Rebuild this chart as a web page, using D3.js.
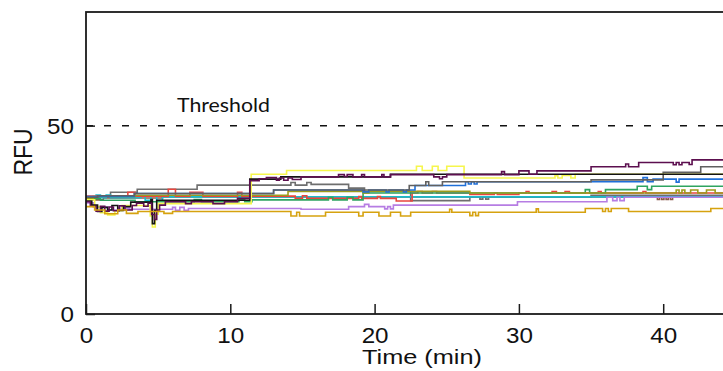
<!DOCTYPE html>
<html>
<head>
<meta charset="utf-8">
<script src="https://cdn.jsdelivr.net/npm/d3@7"></script>
<style>
  html, body { margin: 0; padding: 0; background: #fff; }
  svg { display: block; }
</style>
</head>
<body>
<svg id="chart" width="723" height="371"></svg>
<script>
// RFU readings per well over time: [minutes, RFU] change points (step traces)
const yellowSeries = [[0,30.3],[0.6,28.5],[1.0,26.9],[1.5,26.3],[2.0,27.4],[2.5,28.8],[4.45,26.0],[4.6,23.1],[4.8,26.5],[5.0,29.3],[11.45,37.1],[13.9,38.1],[22.9,39.2],[23.3,38.1],[24.0,39.2],[24.4,38.1],[25.0,39.2],[26.2,36.1],[32.5,36.7],[32.7,36.1],[33.0,36.8],[33.6,36.1],[33.9,37.1],[45,37.1]];
const darkPurpleSeries = [[0,29.8],[0.3,28.6],[0.7,27.3],[1.0,28.6],[1.3,27.3],[1.6,28.4],[1.9,27.4],[2.3,28.7],[2.7,27.6],[3.2,28.8],[3.5,29.4],[4.0,28.6],[4.3,29.4],[4.55,26.4],[4.75,25.1],[4.9,27.6],[5.1,28.9],[5.5,29.8],[6.9,29.3],[7.3,29.8],[8.8,29.3],[9.6,29.8],[10.5,30.7],[11.35,35.4],[12.0,35.9],[12.5,36.2],[13.2,35.5],[13.4,36.1],[13.7,35.5],[14.0,36.1],[14.3,35.7],[14.9,36.4],[17.5,37.0],[17.9,36.5],[18.1,37.0],[18.5,36.4],[19.1,37.0],[19.3,36.4],[20.5,37.0],[20.65,36.4],[21.1,37.0],[24.1,36.4],[24.5,35.9],[24.7,36.4],[25.0,37.0],[28.8,37.8],[29.0,37.0],[30.0,38.0],[30.7,37.1],[31.25,38.0],[35.0,39.1],[37.4,39.8],[37.6,39.1],[38.3,40.2],[40.7,39.6],[40.9,40.2],[41.1,39.6],[41.3,40.2],[41.8,39.7],[42.0,40.9],[45,40.9]];
const blackSeries = [[0,30.0],[0.4,28.9],[0.8,27.2],[1.1,28.3],[1.5,27.6],[1.8,28.8],[2.2,27.5],[2.6,28.5],[3.1,29.7],[4.5,30.4],[4.6,24.0],[4.75,27.5],[4.9,30.2],[11.35,35.8],[13.5,36.4],[21.1,37.1],[45,37.1]];
const grayASeries = [[0,31.0],[1.7,32.3],[3.55,33.1],[7.7,34.2],[14.2,34.9],[14.5,34.2],[15.3,34.9],[15.6,34.4],[18.2,33.4],[19.3,32.5],[22.5,30.1],[26.6,31.1],[27.3,30.5],[27.5,31.1],[27.7,30.5],[27.9,31.1],[35.0,31.5],[45,31.5]];
const grayBSeries = [[0,31.0],[0.8,31.4],[3.35,32.0],[13.0,32.9],[22.4,34.1],[23.55,35.1],[23.75,34.1],[24.7,35.1],[35.0,35.6],[40.0,37.6],[42.6,39.1],[45,39.1]];
const blueSeries = [[0,31.2],[3.35,32.0],[13.0,32.9],[19.2,32.4],[19.6,32.9],[20.8,32.4],[21.0,32.9],[22.0,32.4],[22.2,32.9],[22.8,34.1],[26.3,35.1],[26.5,34.5],[26.7,35.1],[26.9,34.5],[27.1,35.1],[38.6,36.2],[38.9,35.1],[39.3,35.8],[40.9,35.0],[41.1,35.8],[45,35.8]];
const redSeries = [[0,31.3],[2.9,32.3],[3.4,31.3],[5.7,33.1],[6.2,31.3],[7.2,32.3],[8.1,31.3],[10.5,32.3],[10.8,31.3],[14.5,30.7],[15.0,31.4],[15.3,30.7],[18.9,31.2],[19.1,30.7],[20.2,31.2],[20.4,30.7],[21.5,30.0],[22.6,32.1],[23.0,32.5],[23.3,32.1],[24.0,32.5],[24.3,32.1],[26.6,31.7],[28.3,32.1],[28.5,31.7],[30.0,32.1],[30.5,32.5],[30.7,32.1],[32.3,32.5],[32.6,32.1],[33.2,32.5],[33.5,32.1],[35.5,32.5],[35.7,32.1],[38.6,32.5],[38.8,32.1],[45,32.1]];
const cyanSeries = [[0,31.0],[0.7,31.6],[1.0,30.9],[1.4,31.6],[1.7,30.9],[3.8,31.4],[4.1,30.2],[4.5,31.4],[4.9,30.2],[5.3,31.1],[45,31.1]];
const greenSeries = [[0,30.6],[1.0,30.2],[3.4,29.8],[7.5,30.4],[8.0,29.8],[10.6,30.4],[11.0,29.8],[11.5,30.3],[16.8,31.0],[17.1,30.3],[18.1,31.0],[18.5,30.3],[19.2,32.1],[34.6,33.0],[34.9,32.1],[36.0,33.0],[38.2,33.9],[38.9,33.0],[39.2,33.9],[45,33.9]];
const oliveSeries = [[0,30.6],[0.5,31.2],[3.4,31.5],[14.0,32.5],[19.2,32.1],[19.6,32.6],[26.6,32.1],[40.9,32.9],[41.1,32.1],[41.3,32.9],[41.5,32.1],[41.9,32.9],[42.4,32.1],[43.0,32.9],[43.6,32.1],[45,32.1]];
const lavenderSeries = [[0,29.5],[0.5,28.4],[1.5,27.6],[2.2,28.1],[3.0,27.8],[6.0,28.3],[6.2,27.5],[6.5,28.3],[6.8,27.5],[7.1,28.0],[14.9,27.8],[18.2,28.5],[19.3,29.1],[19.6,28.5],[20.7,27.9],[20.9,28.5],[21.1,27.9],[21.3,28.9],[29.9,29.8],[36.1,31.0],[36.5,30.1],[36.8,31.0],[37.0,30.1],[37.3,31.0],[45,31.0]];
const goldSeries = [[0,28.5],[0.6,27.6],[1.3,26.6],[2.2,27.6],[2.8,26.7],[3.6,27.2],[5.4,26.7],[6.0,27.2],[14.2,26.0],[14.6,27.0],[14.8,26.0],[16.6,27.0],[18.9,26.0],[19.2,27.0],[20.3,26.0],[21.1,27.0],[21.8,26.0],[22.5,27.0],[25.2,27.8],[25.35,27.0],[26.6,26.1],[26.8,27.0],[27.0,26.1],[27.2,27.0],[31.2,27.9],[31.35,27.0],[34.6,28.0],[35.8,27.2],[36.0,28.0],[36.2,27.2],[36.4,28.0],[37.6,27.2],[43.3,28.0],[45,28.0]];
const brownSeries = [[0,30.8],[0.5,30.3],[1.2,30.8],[5.3,31.1],[26.6,31.1],[39.6,30.4],[39.75,31.2],[39.9,30.4],[40.05,31.2],[40.2,30.4],[40.35,31.2],[40.5,30.4],[40.65,31.2],[45,31.2]];

const thresholdValue = 50;
const thresholdLabel = "Threshold";
const xTickValues = [0, 10, 20, 30, 40];
const yTickValues = [0, 50];
const xTitle = "Time (min)";
const yTitle = "RFU";

// drawing order: first is underneath
const traces = [
  { data: brownSeries,      color: "#8c5a4b" },
  { data: grayASeries,      color: "#6e6e6e" },
  { data: cyanSeries,       color: "#19bccd" },
  { data: redSeries,        color: "#e8463e" },
  { data: greenSeries,      color: "#2ea460" },
  { data: oliveSeries,      color: "#9c9b1d" },
  { data: blueSeries,       color: "#1f6fd8" },
  { data: grayBSeries,      color: "#606060" },
  { data: lavenderSeries,   color: "#b67de3" },
  { data: yellowSeries,     color: "#f6f64c" },
  { data: blackSeries,      color: "#141414" },
  { data: darkPurpleSeries, color: "#5c0f4f" },
  { data: goldSeries,       color: "#d6a20f" }
];

const svg = d3.select("#chart");
const plotLeft = 86, plotTop = 12, plotBottom = 314;
const pxPerMin = 14.43;

const x = d3.scaleLinear().domain([0, 50]).range([plotLeft, plotLeft + 50 * pxPerMin]);
const y = d3.scaleLinear().domain([0, 80]).range([plotBottom, plotTop + 0.6]);

svg.append("defs").append("clipPath").attr("id", "plotClip")
  .append("rect").attr("x", plotLeft).attr("y", plotTop)
  .attr("width", 800).attr("height", plotBottom - plotTop);

const plot = svg.append("g").attr("clip-path", "url(#plotClip)");

// threshold
plot.append("line")
  .attr("x1", x(0)).attr("x2", x(50))
  .attr("y1", y(thresholdValue)).attr("y2", y(thresholdValue))
  .attr("stroke", "#111").attr("stroke-width", 1.5)
  .attr("stroke-dasharray", "7,11");

const line = d3.line()
  .x(d => x(d[0]))
  .y(d => y(d[1]))
  .curve(d3.curveStepAfter);

plot.selectAll("path.trace")
  .data(traces)
  .join("path")
  .attr("class", "trace")
  .attr("d", d => line(d.data))
  .attr("fill", "none")
  .attr("stroke", d => d.color)
  .attr("stroke-width", 1.6)
  .attr("stroke-linejoin", "miter");

// frame
svg.append("rect")
  .attr("x", plotLeft).attr("y", plotTop)
  .attr("width", 800).attr("height", plotBottom - plotTop)
  .attr("fill", "none").attr("stroke", "#1a1a1a").attr("stroke-width", 1.8);

// x axis with inward ticks
const xAxis = svg.append("g")
  .attr("transform", `translate(0,${plotBottom})`)
  .call(d3.axisBottom(x).tickValues(xTickValues).tickSize(-10).tickFormat(d3.format("d")));
xAxis.select(".domain").remove();
xAxis.selectAll(".tick line").attr("stroke", "#1a1a1a").attr("stroke-width", 1.5);
xAxis.selectAll(".tick text")
  .attr("y", 29).attr("dy", 0)
  .attr("transform", "scale(1.1,1)")
  .attr("fill", "#111")
  .style("font-family", "'Liberation Sans', Arial, sans-serif")
  .style("font-size", "22px");

// y axis
const yAxis = svg.append("g")
  .attr("transform", `translate(${plotLeft},0)`)
  .call(d3.axisLeft(y).tickValues(yTickValues).tickSize(-9).tickFormat(d3.format("d")));
yAxis.select(".domain").remove();
yAxis.selectAll(".tick line").attr("stroke", "#1a1a1a").attr("stroke-width", 1.5);
yAxis.selectAll(".tick text")
  .attr("x", -11).attr("dy", "0.36em")
  .attr("transform", "scale(1.1,1)")
  .attr("fill", "#111")
  .style("font-family", "'Liberation Sans', Arial, sans-serif")
  .style("font-size", "22px");

// labels
svg.append("text")
  .attr("x", 177).attr("y", 111.5)
  .attr("textLength", 93).attr("lengthAdjust", "spacingAndGlyphs")
  .attr("fill", "#111")
  .style("font-family", "Lato, 'Open Sans', sans-serif")
  .style("font-size", "20px")
  .text(thresholdLabel);

svg.append("text")
  .attr("x", 362).attr("y", 364)
  .attr("textLength", 120).attr("lengthAdjust", "spacingAndGlyphs")
  .attr("fill", "#111")
  .style("font-family", "'Liberation Sans', Arial, sans-serif")
  .style("font-size", "20px")
  .text(xTitle);

svg.append("text")
  .attr("transform", "translate(31.5,152) scale(1.1,1) rotate(-90)")
  .attr("text-anchor", "middle")
  .attr("fill", "#111")
  .style("font-family", "'Liberation Sans', Arial, sans-serif")
  .style("font-size", "23px")
  .text(yTitle);
</script>
</body>
</html>
